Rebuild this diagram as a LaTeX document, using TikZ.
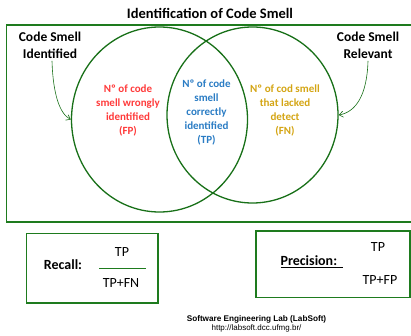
\documentclass[tikz,border=0pt]{standalone}
\usepackage{fontspec}
\setmainfont{Carlito}
\newfontfamily\arialfont{Liberation Sans}
\usetikzlibrary{shapes.geometric,arrows.meta}
\definecolor{boxgreen}{HTML}{1E7B1E}
\definecolor{circgreen}{HTML}{187018}
\definecolor{fpred}{HTML}{FF3B3B}
\definecolor{tpblue}{HTML}{2A7CC4}
\definecolor{fngold}{HTML}{D4A514}
\tikzset{
  frame/.style={draw=boxgreen, line width=1.6pt},
  setcirc/.style={draw=circgreen, line width=1.3pt, ellipse, inner sep=0pt},
  lbl/.style={font=\bfseries\fontsize{13.5}{17}\selectfont, align=center, inner sep=0pt},
  inner/.style={font=\bfseries\fontsize{11}{14}\selectfont, align=center, inner sep=0pt},
  frm/.style={font=\fontsize{14}{16}\selectfont, inner sep=0pt},
  frmb/.style={font=\bfseries\fontsize{14}{16}\selectfont, inner sep=0pt},
  pointer/.style={draw=circgreen, line width=0.6pt, -{Straight Barb[length=4pt,width=6pt]}},
}
\begin{document}
\begin{tikzpicture}[x=1pt,y=-1pt]
\useasboundingbox (0,0) rectangle (411,336);
\clip (0,0) rectangle (411,336);
\node[font=\bfseries\fontsize{14.5}{16}\selectfont, inner sep=0pt] (title) at (210,13) {Identification of Code Smell};
\draw[frame] (6.5,25) rectangle (415,222);
\node[setcirc, minimum width=176pt, minimum height=185pt] (L) at (159.5,119.5) {};
\node[setcirc, minimum width=171pt, minimum height=176pt] (R) at (252.5,115) {};
\node[lbl] (lblL) at (50,45.5) {Code Smell\\Identified};
\node[lbl] (lblR) at (368,45.5) {Code Smell\\Relevant};
\draw[pointer] (lblL.south) ++(2,2) coordinate (sL) .. controls (53,95) and (60,114) .. (L.west);
\draw[pointer] (lblR.south) ++(0,2) coordinate (sR) .. controls (367,95) and (356,112) .. (R.east);
\node[inner, text=fpred] (fp) at (128,110) {Nº of code\\smell wrongly\\identified\\(FP)};
\node[inner, text=tpblue] (tp) at (206.5,112) {Nº of code\\smell\\correctly\\identified\\(TP)};
\node[inner, text=fngold] (fn) at (285,110) {Nº of cod smell\\that lacked\\detect\\(FN)};
% Recall box
\draw[frame] (26.5,233.5) rectangle (158,303);
\node[frmb] (rec) at (63,265) {Recall:};
\node[frm] (rtp) at (122,252.5) {TP};
\node[frm] (rtpfn) at (121,283) {TP+FN};
\coordinate (rl1) at (99,268.7);
\coordinate (rl2) at (146,268.7);
\draw[draw=boxgreen, line width=0.9pt] (rl1) -- (rl2);
% Precision box
\draw[frame] (256,231) rectangle (410,297.5);
\node[frmb] (prec) at (312,261.5) {\underline{Precision:\ \ }};
\node[frm] (ptp) at (378,247) {TP};
\node[frm] (ptpfp) at (380,280) {TP+FP};
% footer
\node[font=\arialfont\bfseries\fontsize{8.2}{9}\selectfont, inner sep=0pt] (lab) at (256.5,319) {Software Engineering Lab (LabSoft)};
\node[font=\arialfont\fontsize{8}{9}\selectfont, inner sep=0pt] (url) at (256.5,328.5) {http://labsoft.dcc.ufmg.br/};
\end{tikzpicture}
\end{document}
